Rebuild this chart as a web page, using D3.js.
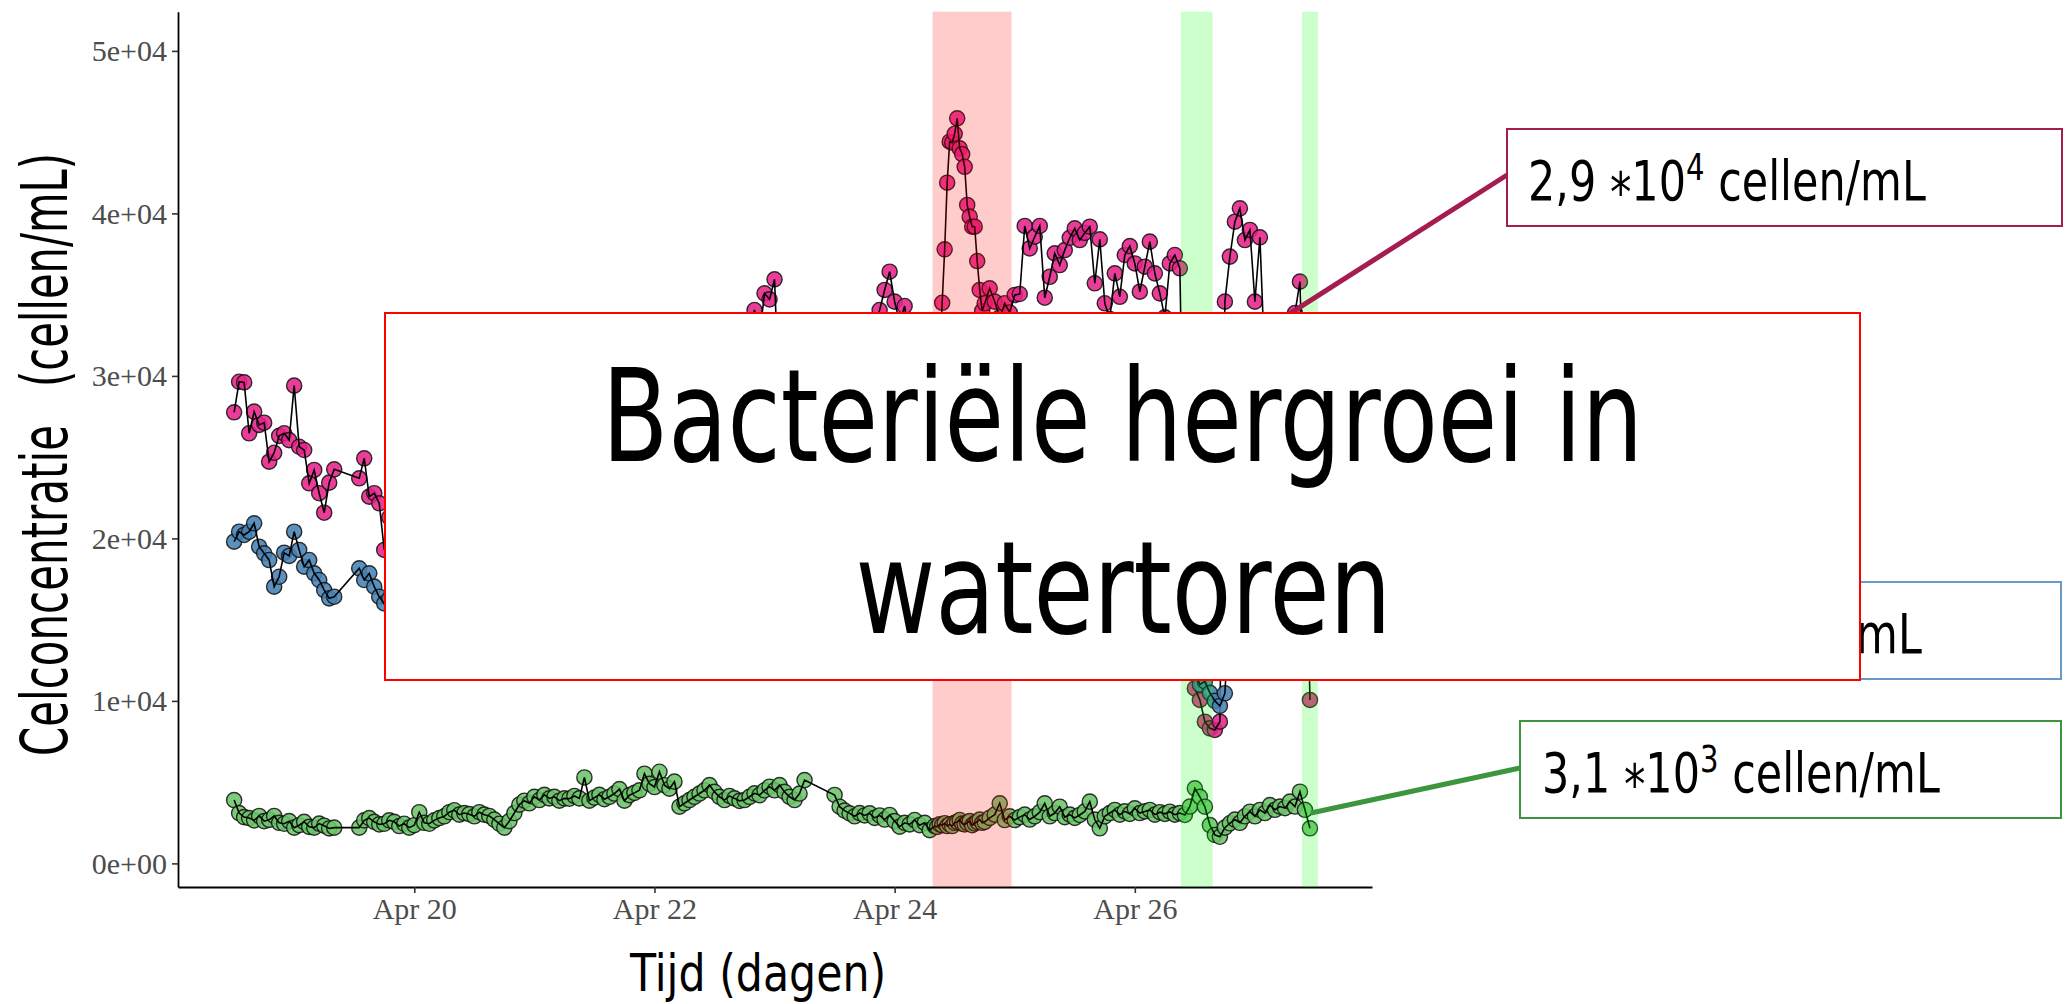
<!DOCTYPE html>
<html lang="nl">
<head>
<meta charset="UTF-8">
<title>Bacteriële hergroei in watertoren</title>
<script src="https://cdnjs.cloudflare.com/ajax/libs/d3/7.8.5/d3.min.js"></script>
<style>
  body { margin: 0; background: #fff; }
  svg { display: block; }
  .axis .domain { stroke: #000; stroke-width: 1.8; }
  .axis .tick line { stroke: #333; stroke-width: 1.6; }
  .axis .tick text { font-family: "Liberation Serif", "Times New Roman", serif; font-size: 30px; fill: #4d4d4d; }
  .lbl { font-family: "DejaVu Sans", sans-serif; fill: #000; white-space: pre; }
</style>
</head>
<body>
<svg id="chart" width="2065" height="1004"></svg>
<script>
// sampling runs, hours counted from Apr 18 00:00
const runStart = [12, 37, 132, 152.5, 163];
const runStep  = [1, 1, 1, 0.5, 1];
const runCount = [21, 90, 21, 20, 65];

// total cell count (pink)
const totalCells = [
  27760, 29640, 29600, 26470, 27800, 26980, 27120, 24720, 25270, 26310, 26470, 26050, 29400, 25640, 25440, 23390, 24210, 22780, 21580, 23430, 24250,
  23700, 24930, 22570, 22780, 22160, 19290,
  21300, 22500, 21700, 23200, 22400, 23900, 22800, 24300, 23300, 24800,
  24100, 25300, 24200, 25900, 24800, 26200, 25500, 26700, 25700, 27100,
  26300, 27500, 26600, 27900, 26900, 28400, 27300, 28600, 27600, 29000,
  28100, 29300, 28200, 29700, 28800, 30100, 29000, 30400, 29400, 30900,
  29700, 31100, 30200, 31500, 30400, 31800, 30800, 31900, 31000, 32300,
  31300, 32500, 31600, 32700, 31800, 32900, 32100, 33000, 32200, 32800,
  32400, 33100, 32500, 32900, 32600, 33200, 32700, 33000, 32400, 33100,
  32600, 33200, 32800,
  34055, 32500, 35080, 34710, 35945,
  28000, 27100, 27600, 26800, 27700, 27300,
  27500, 28200, 29000, 29800, 30500, 31200, 32000, 32800, 33000, 34055, 35290, 36410, 34570, 33300, 34300, 32000, 31500, 30800, 31200, 30500, 29800,
  29000, 31000, 34500, 37790, 41890, 44410, 44350, 44900, 45850, 44000, 43650, 42870, 40520, 39800, 39180, 39180, 37070, 35290, 34000, 34470,
  35390, 34570, 33600, 34470, 33900, 34980, 35040, 39225, 37850, 38565,
  39225, 34810, 36100, 37540, 36820, 37740, 38500, 39080, 38360, 38800,
  39180, 35700, 38400, 34470, 33500, 36310, 34870, 37440, 37990, 36920,
  35180, 36720, 38260, 36310, 35080, 33600, 36920, 37440, 36620, 20000,
  12500, 10770, 10060, 8720, 8310, 8210, 8720, 34570, 37340, 39490,
  40310, 38360, 38980, 34570, 38530, 30500, 29500, 31000, 30000, 31500,
  32000, 33870, 35800, 25000, 10060
];

// low nucleic acid cells (blue)
const lnaCells = [
  19800, 20410, 20210, 20410, 20930, 19490, 19080, 18670, 17030, 17640, 19120, 18920, 20410, 19290, 18260, 18670, 17850, 17440, 16820, 16310, 16410,
  18160, 17440, 17850, 17030, 16410, 16000,
  16300, 15800, 16600, 16100, 17000, 16400, 17300, 16800, 17600, 17100,
  17900, 17300, 18100, 17600, 18400, 17800, 18600, 18100, 18900, 18300,
  19000, 18500, 19300, 18700, 19500, 18900, 19600, 19100, 19800, 19200,
  19900, 19400, 20100, 19500, 20200, 19700, 20300, 19800, 20500, 19900,
  20600, 20000, 20700, 20200, 20800, 20300, 20900, 20400, 21000, 20500,
  21100, 20600, 21200, 20800, 21300, 20900, 21400, 21000, 21500, 21100,
  21600, 21200, 21700, 21300, 21800, 21400, 21900, 21500, 22000, 21600,
  22100, 21700, 22200, 21800, 22300, 21900, 22400, 22000, 22500, 22100,
  22300, 21900, 22400, 22000,
  21700, 22200, 21800, 22400, 21900, 22500, 22000, 22600, 22100, 22700, 22200, 22800, 22300, 22900, 22400, 23000, 22500, 23100, 22600, 23200, 22700,
  22900, 23300, 23000, 23400, 23100, 23500, 23200, 23600, 23300, 23700, 23400, 23800, 23500, 23900, 23600, 24000, 23700, 24100, 23800, 24200,
  24000, 24300, 24100, 24400, 24200, 24500, 24300, 24600, 24400, 24700,
  24500, 24800, 24600, 24900, 24700, 25000, 24800, 25100, 24900, 25200,
  25000, 25300, 25100, 25400, 25200, 25500, 25300, 25600, 25400, 25700,
  25500, 25800, 25600, 25900, 25700, 26000, 25800, 26100, 25900,
  18000, 12500, 11800, 11000, 11200, 10500, 10000, 9690, 10470, 16000,
  17000, 16500, 17200, 16800, 17400, 16900, 17100, 16600, 17300, 16800, 17000, 16500, 16900, 16400, 16800, 16300
];

// high nucleic acid cells (green)
const hnaCells = [
  3900, 3100, 2850, 2790, 2650, 2920, 2600, 2680, 2920, 2500, 2440, 2600, 2200, 2350, 2560, 2250, 2200, 2450, 2320, 2150, 2200,
  2200, 2650, 2790, 2560, 2400, 2440, 2650, 2560, 2300, 2440,
  2200, 2350, 3150, 2500, 2440, 2650, 2790, 2900, 3150, 3270,
  3000, 3100, 3030, 2900, 3150, 3000, 2920, 2700, 2440, 2200,
  2600, 3100, 3620, 3860, 3700, 4100, 3900, 4220, 4000, 4100,
  3860, 4000, 3980, 4150, 4000, 5290, 3860, 4050, 4220, 3950,
  4100, 4300, 4570, 3860, 4200, 4340, 4500, 5520, 4900, 4700,
  5640, 4810, 4600, 5030, 3490, 3700, 3900, 4100, 4300, 4500,
  4820, 4400, 4100, 3900, 4150, 4000, 3850, 3900, 4100, 4310,
  4200, 4500, 4720, 4500, 4820, 4400, 4100, 3900, 4300, 5130,
  4210, 3490, 3250, 3080, 2900, 3100, 2950, 3080, 2800, 2950, 2700, 2980, 2600, 2260, 2500, 2400, 2670, 2350, 2500, 2050, 2300,
  2250, 2400, 2350, 2470, 2300, 2400, 2300, 2500, 2550, 2670, 2450, 2400, 2500, 2600, 2350, 2470, 2550, 2700, 2500, 2550,
  2800, 3000, 3700, 2670, 2900, 2670, 2850, 3000, 2700, 2900,
  3150, 3700, 2900, 3100, 3490, 2850, 3000, 2800, 2980, 3200,
  3800, 2700, 2160, 2900, 3100, 3290, 3000, 3200, 3050, 3390,
  3100, 3200, 3290, 3000, 3150, 3050, 3180, 3000, 3100, 2980,
  3500, 4620, 4100, 3490, 2360, 1750, 1640, 2200, 2470, 2700,
  2500, 2900, 3180, 2900, 3290, 3100, 3590, 3300, 3500, 3400,
  3800, 3500, 4410, 3300, 2160
];

// shaded periods
const bandStart = ["2021-04-24 07:35", "2021-04-26 09:13", "2021-04-27 09:24"];
const bandEnd   = ["2021-04-24 23:22", "2021-04-26 15:33", "2021-04-27 12:36"];
const bandKind  = ["storing", "spoeling", "spoeling"];

const xTicks = ["2021-04-20", "2021-04-22", "2021-04-24", "2021-04-26"];
const yTicks = [0, 10000, 20000, 30000, 40000, 50000];

// callout labels (pink, blue, green)
const labelMantissa = ["2,9", "1,7", "3,1"];
const labelExponent = ["4", "4", "3"];
const labelTargetTime  = ["2021-04-26 21:40", "2021-04-26 23:00", "2021-04-27 11:12"];
const labelTargetValue = [32000, 17000, 3100];

const parseTime = d3.timeParse("%Y-%m-%d %H:%M");
const parseDay = d3.timeParse("%Y-%m-%d");
const t0 = new Date(2021, 3, 18, 0, 0);

const sampleHours = [];
runStart.forEach((s, r) => {
  for (let i = 0; i < runCount[r]; i++) sampleHours.push(s + i * runStep[r]);
});
const sampleDates = sampleHours.map(h => new Date(t0.getTime() + h * 3600e3));

const svg = d3.select("#chart");

const x = d3.scaleTime()
  .domain([new Date(2021, 3, 18, 0, 47), new Date(2021, 3, 27, 23, 24)])
  .range([178, 1372]);
const y = d3.scaleLinear()
  .domain([-1452, 52412])
  .range([887, 11.7]);

// axes
const sciFormat = d => {
  if (d === 0) return "0e+00";
  const e = Math.floor(Math.log10(d));
  return (d / Math.pow(10, e)) + "e+" + String(e).padStart(2, "0");
};

svg.append("g")
  .attr("class", "axis")
  .attr("transform", `translate(0,${y.range()[0]})`)
  .call(d3.axisBottom(x)
    .tickValues(xTicks.map(parseDay))
    .tickFormat(d3.timeFormat("%b %d"))
    .tickSize(6).tickSizeOuter(0).tickPadding(5));

svg.append("g")
  .attr("class", "axis")
  .attr("transform", `translate(${x.range()[0]},0)`)
  .call(d3.axisLeft(y)
    .tickValues(yTicks)
    .tickFormat(sciFormat)
    .tickSize(6).tickSizeOuter(0).tickPadding(5));

// series: points then line on top
const series = [
  { values: totalCells, fill: "#e6228a" },
  { values: lnaCells,   fill: "#4682b4" },
  { values: hnaCells,   fill: "#6cc46a" }
];

const line = d3.line().x(d => x(d.date)).y(d => y(d.v));

series.forEach(s => {
  const pts = sampleDates.map((d, i) => ({ date: d, v: s.values[i] }));
  const g = svg.append("g");
  g.selectAll("circle")
    .data(pts)
    .join("circle")
    .attr("cx", d => x(d.date))
    .attr("cy", d => y(d.v))
    .attr("r", 7.6)
    .attr("fill", s.fill)
    .attr("fill-opacity", 0.88)
    .attr("stroke", "#111")
    .attr("stroke-opacity", 0.85)
    .attr("stroke-width", 1.4);
  g.append("path")
    .datum(pts)
    .attr("d", line)
    .attr("fill", "none")
    .attr("stroke", "#000")
    .attr("stroke-width", 1.6);
});

// shaded periods over the data
const bandFill = { storing: "#ff0000", spoeling: "#00ff00" };
svg.append("g")
  .selectAll("rect")
  .data(bandStart.map((s, i) => ({ s: parseTime(s), e: parseTime(bandEnd[i]), kind: bandKind[i] })))
  .join("rect")
  .attr("x", d => x(d.s))
  .attr("width", d => x(d.e) - x(d.s))
  .attr("y", y.range()[1])
  .attr("height", y.range()[0] - y.range()[1])
  .attr("fill", d => bandFill[d.kind])
  .attr("fill-opacity", 0.2);

// callout boxes
const boxes = [
  { x0: 1507, y0: 129, x1: 2062, y1: 226, color: "#a51c50", baseline: 200, anchorY: 175, textStart: 1528 },
  { x0: 1507, y0: 582, x1: 2061, y1: 679, color: "#6a98c9", baseline: 653, anchorY: 630, textEnd: 1922 },
  { x0: 1520, y0: 721, x1: 2061, y1: 818, color: "#3d963d", baseline: 792, anchorY: 768, textStart: 1542 }
];

const notes = svg.append("g");
let labelScale = null;
boxes.forEach((b, i) => {
  const tx = x(parseTime(labelTargetTime[i]));
  const ty = y(labelTargetValue[i]);
  notes.append("line")
    .attr("x1", b.x0).attr("y1", b.anchorY)
    .attr("x2", tx).attr("y2", ty)
    .attr("stroke", b.color)
    .attr("stroke-width", 5);
  notes.append("rect")
    .attr("x", b.x0).attr("y", b.y0)
    .attr("width", b.x1 - b.x0).attr("height", b.y1 - b.y0)
    .attr("fill", "#fff")
    .attr("stroke", b.color)
    .attr("stroke-width", 2);
  const t = notes.append("text").attr("class", "lbl").attr("font-size", 56);
  t.append("tspan").text(labelMantissa[i] + " ");
  t.append("tspan").attr("dy", 12).text("*");
  t.append("tspan").attr("dy", -12).text("10");
  t.append("tspan").attr("dy", -20).attr("font-size", 38).text(labelExponent[i]);
  t.append("tspan").attr("dy", 20).text(" cellen/mL");
  const w = t.node().getBBox().width;
  if (labelScale === null) labelScale = 398 / w;
  const start = b.textStart !== undefined ? b.textStart : b.textEnd - w * labelScale;
  t.attr("transform", `translate(${start},${b.baseline}) scale(${labelScale},1)`);
});

// title box on top
const tb = { x0: 385, y0: 313, x1: 1860, y1: 680 };
svg.append("rect")
  .attr("x", tb.x0).attr("y", tb.y0)
  .attr("width", tb.x1 - tb.x0).attr("height", tb.y1 - tb.y0)
  .attr("fill", "#fff")
  .attr("stroke", "#ff0000")
  .attr("stroke-width", 2);

function fitted(str, size, anchor, cx, cy, width, rotate) {
  const t = svg.append("text")
    .attr("class", "lbl")
    .attr("font-size", size)
    .attr("text-anchor", anchor)
    .text(str);
  const s = width / t.node().getBBox().width;
  t.attr("transform", `translate(${cx},${cy})${rotate ? " rotate(-90)" : ""} scale(${s},1)`);
  return t;
}

fitted("Bacteriële hergroei in", 128, "middle", 1122.5, 461, 1041);
fitted("watertoren", 128, "middle", 1123.5, 633, 536);

// axis titles
fitted("Tijd (dagen)", 52, "start", 630, 991, 257);
fitted("Celconcentratie", 64, "start", 67, 756, 331, true);
fitted("(cellen/mL)", 64, "start", 67, 387, 234, true);
</script>
</body>
</html>
